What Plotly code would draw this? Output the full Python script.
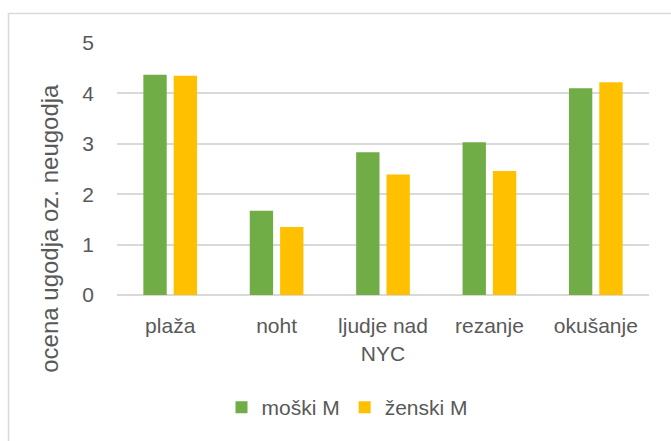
import plotly.graph_objects as go

categories = ["plaža", "noht", "ljudje nad<br>NYC", "rezanje", "okušanje"]
moski_M = [4.37, 1.67, 2.83, 3.03, 4.10]
zenski_M = [4.35, 1.35, 2.39, 2.46, 4.22]
y_ticks = [0, 1, 2, 3, 4, 5]
y_title = "ocena ugodja oz. neugodja"

FONT = "Liberation Sans"
GRAY = "#595959"

# plot-area pixel geometry (used only to place the title, legend and frame)
L, R, T, B = 117, 649, 43, 295.3
PW, PH = R - L, B - T

fig = go.Figure()
fig.add_trace(go.Bar(x=categories, y=moski_M, name="moški M",
                     marker=dict(color="#70AD47", line=dict(width=0))))
fig.add_trace(go.Bar(x=categories, y=zenski_M, name="ženski M",
                     marker=dict(color="#FFC000", line=dict(width=0))))

fig.update_layout(
    width=671, height=441,
    margin=dict(l=L, r=671 - R, t=T, b=441 - B),
    paper_bgcolor="white", plot_bgcolor="white",
    barmode="group", bargap=0.43, bargroupgap=0.23,
    font=dict(family=FONT, size=21, color=GRAY),
    showlegend=True,
    legend=dict(orientation="h", x=(347.5 - L) / PW, xanchor="center",
                y=(B - 408) / PH, yanchor="middle",
                font=dict(family=FONT, size=21, color=GRAY), itemwidth=30,
                traceorder="normal", bgcolor="rgba(0,0,0,0)"),
    xaxis=dict(showgrid=False, showline=False, ticks="outside", ticklen=12,
               tickcolor="rgba(0,0,0,0)", tickfont=dict(size=21, color=GRAY)),
    yaxis=dict(range=[0, 5], tickvals=y_ticks, showgrid=True, gridcolor="#D9D9D9",
               gridwidth=1.5, zeroline=True, zerolinecolor="#D9D9D9", zerolinewidth=1.5,
               showline=False, ticklabelstandoff=22, tickfont=dict(size=21, color=GRAY)),
    annotations=[dict(text=y_title, textangle=-90, xref="paper", yref="paper",
                      x=(50 - L) / PW, y=(B - 229) / PH, xanchor="center", yanchor="middle",
                      showarrow=False, font=dict(family=FONT, size=24, color=GRAY))],
    shapes=[dict(type="rect", xref="paper", yref="paper",
                 x0=(8.5 - L) / PW, x1=(700 - L) / PW,
                 y0=(B - 470) / PH, y1=(B - 13.5) / PH,
                 line=dict(color="#D9D9D9", width=1.5), layer="below")],
)

fig.write_html("out.html", config={"displayModeBar": False},
               post_script="document.body.style.margin='0';")
